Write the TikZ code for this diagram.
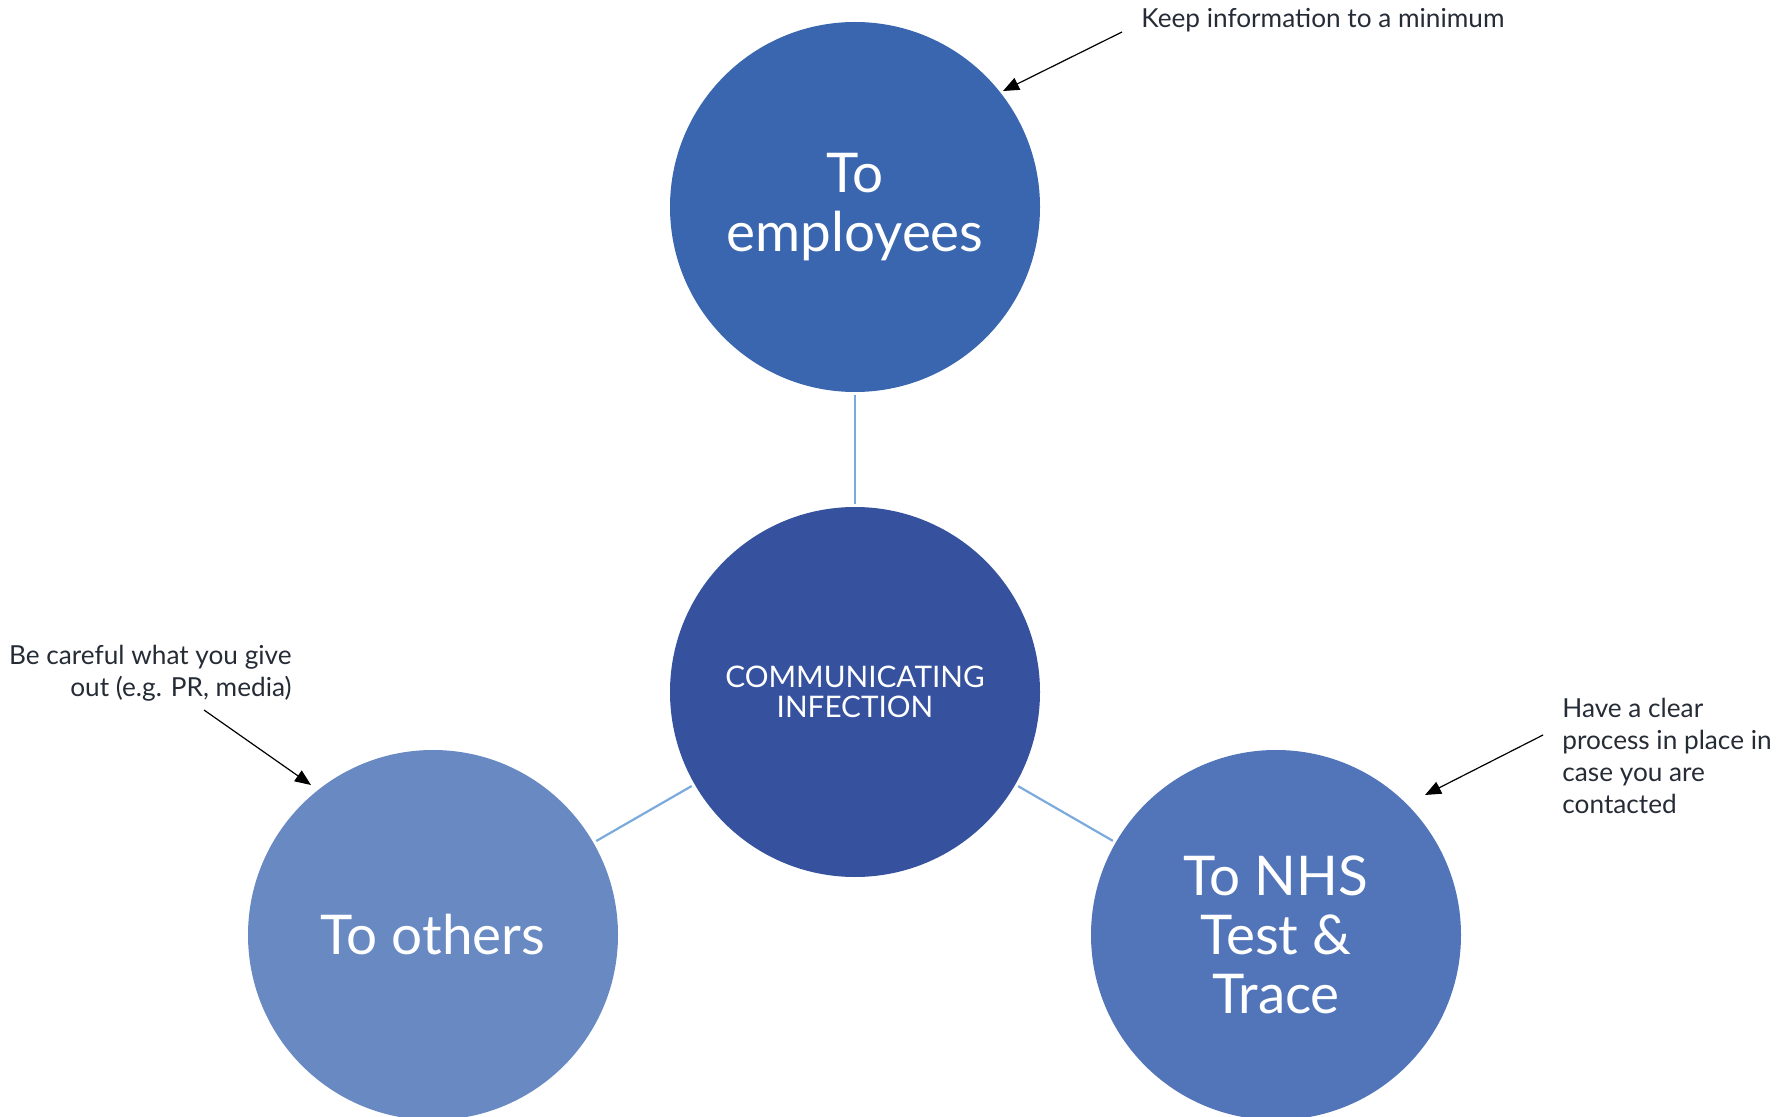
\documentclass[tikz,border=0pt]{standalone}
\usepackage{fontspec}
\setmainfont{Lato}
\usepackage{tikz}
\usetikzlibrary{arrows.meta}

\definecolor{topblue}{HTML}{3A66AF}
\definecolor{midblue}{HTML}{36529F}
\definecolor{leftblue}{HTML}{6889C1}
\definecolor{rightblue}{HTML}{5275BA}
\definecolor{linkblue}{HTML}{7BAADC}
\definecolor{notegrey}{HTML}{262C36}

\tikzset{
    bubble/.style={circle, minimum size=185pt, inner sep=0pt, text=white, align=center,
        font=\fontsize{27.4}{29.6}\selectfont},
    link/.style={draw=linkblue, line width=1.1pt, shorten <=1.5pt, shorten >=1.5pt},
    note/.style={text=notegrey, font=\fontsize{13.1}{16}\selectfont, inner sep=0pt},
    pointer/.style={draw=black, line width=0.6pt, -{Triangle[length=8pt, width=6.5pt]}}
}

\begin{document}
\begin{tikzpicture}[x=0.5pt, y=-0.5pt]
            \useasboundingbox (0, 0) rectangle (1788, 1117);
            \node[bubble, fill=topblue] (employees) at (855, 207) {To\\employees};
            \node[bubble, fill=midblue, font=\fontsize{14.85}{14.8}\selectfont] (centre) at (855, 692) {COMMUNICATING\\INFECTION};
            \node[bubble, fill=leftblue] (others) at (433, 935) {To others};
            \node[bubble, fill=rightblue] (nhs) at (1276, 935) {To NHS\\Test \&\\Trace};
            \draw[link] (employees) -- (centre);
            \draw[link] (centre) -- (others);
            \draw[link] (centre) -- (nhs);
            % notes
            \node[note, anchor=west] (keep) at (1141, 20) {Keep information to a minimum};
            \node[note, anchor=east, align=right] (careful) at (292, 673) {Be careful what you give\\out (e.g. PR, media)};
            \node[note, anchor=west, align=left] (process) at (1562, 756) {Have a clear\\process in place in\\case you are\\contacted};
            \coordinate (keepend) at (1003, 91);
            \coordinate (carefulend) at (311, 785);
            \coordinate (processend) at (1425, 795);
            \draw[pointer] (1122, 32) -- (keepend);
            \draw[pointer] (204, 710) -- (carefulend);
            \draw[pointer] (1543, 735) -- (processend);
        \end{tikzpicture}
\end{document}
